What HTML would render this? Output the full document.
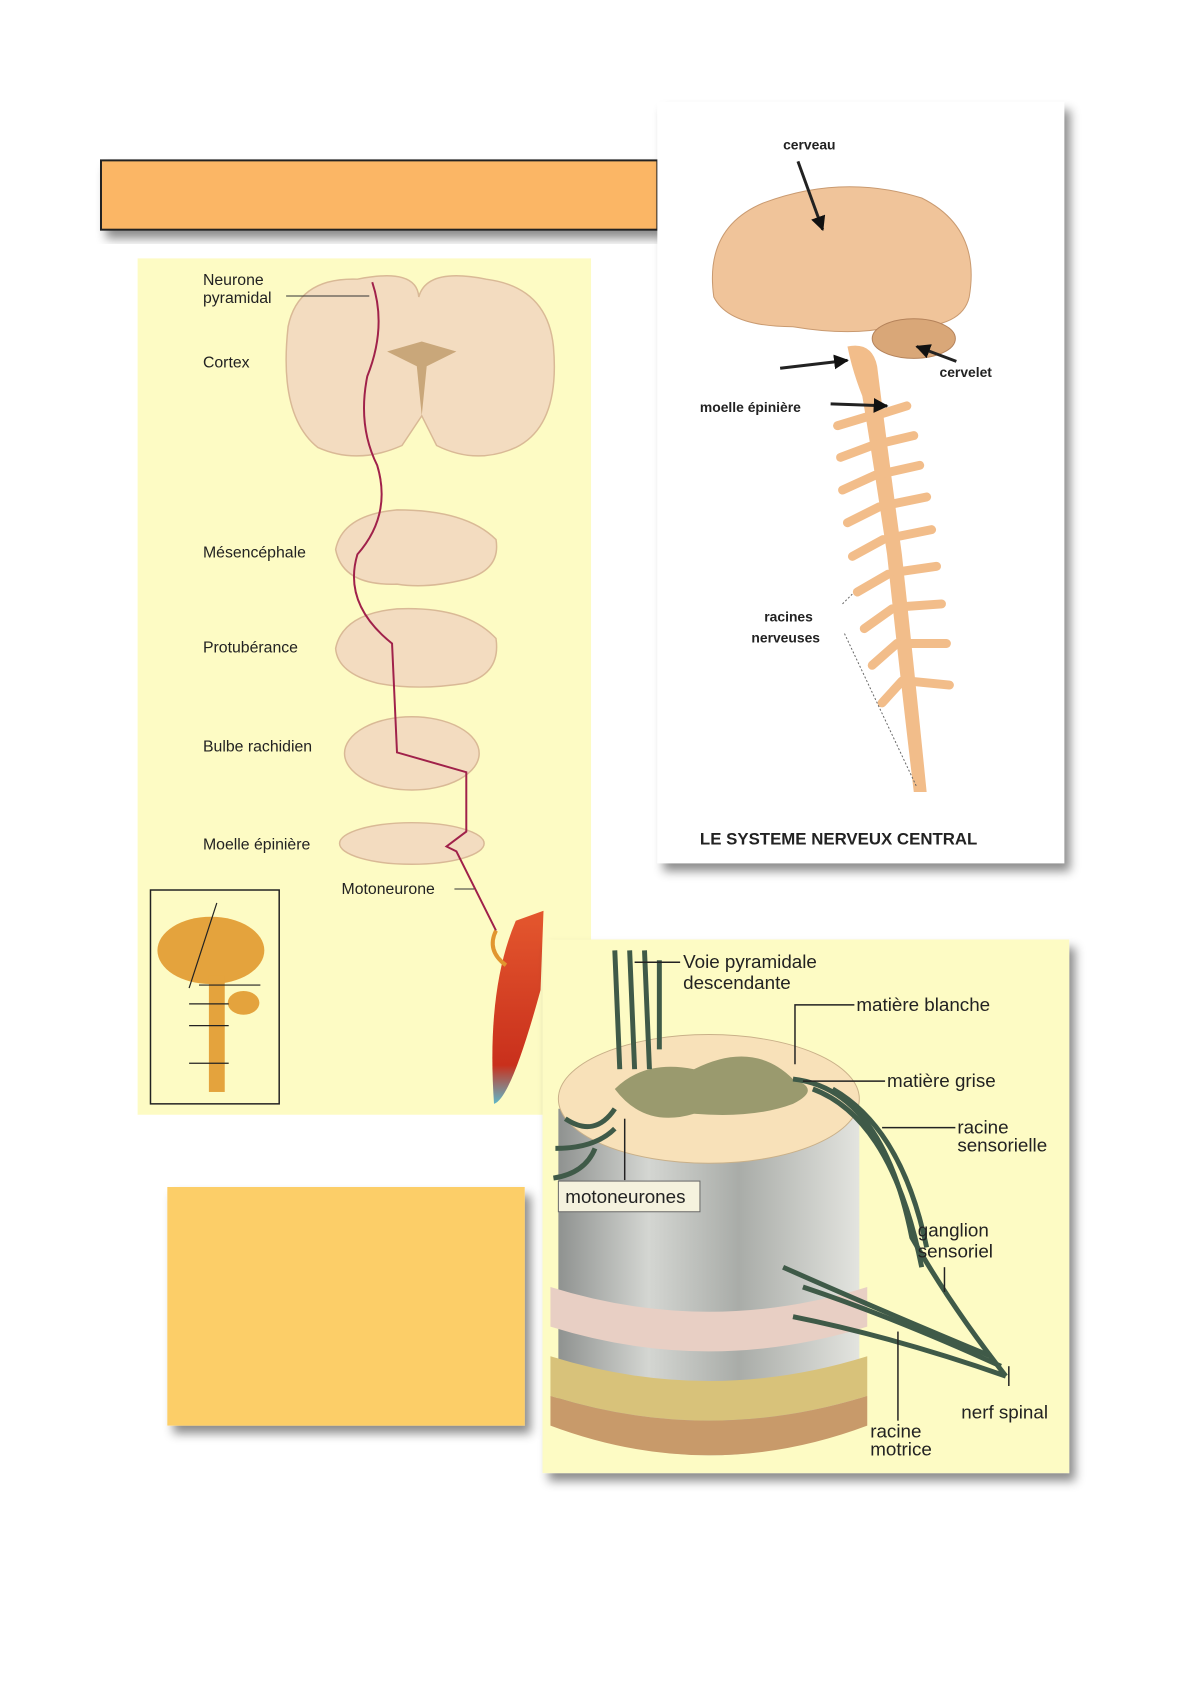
<!DOCTYPE html>
<html><head><meta charset="utf-8"><style>
body{margin:0;background:#fff;}
svg{display:block;font-family:"Liberation Sans",sans-serif;}
</style></head><body>
<svg width="1191" height="1684" viewBox="0 0 1191 1684" xmlns="http://www.w3.org/2000/svg">
<defs>
<filter id="sh" x="-10%" y="-10%" width="130%" height="130%"><feDropShadow dx="6" dy="8" stdDeviation="5" flood-color="#000" flood-opacity="0.45"/></filter>
<linearGradient id="cyl" x1="0" x2="1"><stop offset="0" stop-color="#8f9290"/><stop offset="0.3" stop-color="#d4d6d2"/><stop offset="0.6" stop-color="#a9aca8"/><stop offset="1" stop-color="#e3e4df"/></linearGradient>
<linearGradient id="mus" x1="0" y1="0" x2="0" y2="1"><stop offset="0" stop-color="#e4572e"/><stop offset="0.8" stop-color="#c9301c"/><stop offset="1" stop-color="#5fb7c8"/></linearGradient>
<marker id="ar" viewBox="0 0 10 10" refX="9" refY="5" markerWidth="5" markerHeight="5" orient="auto"><path d="M0 0 L10 5 L0 10Z" fill="#111"/></marker>
</defs>
<g transform="translate(1 0) scale(0.99 0.99)">
<rect x="101" y="162" width="562" height="70" fill="#fbb665" stroke="#222" stroke-width="2" filter="url(#sh)"/>
<rect x="138" y="261" width="458" height="865" fill="#fdfbc4"/>
<g fill="#f3dcc0" stroke="#d9b996" stroke-width="1.5">
<path d="M290 330 Q300 280 360 282 Q420 270 422 300 Q430 270 490 282 Q552 290 558 350 Q565 430 520 452 Q480 470 440 450 L425 420 L405 450 Q360 470 320 452 Q280 420 290 330Z"/>
<path d="M338 555 Q345 520 400 515 Q470 515 500 545 Q505 575 470 585 Q430 595 400 590 Q345 592 338 555Z"/>
<path d="M338 655 Q345 620 400 615 Q470 612 500 645 Q505 680 470 690 Q420 698 380 690 Q340 680 338 655Z"/>
<ellipse cx="415" cy="761" rx="68" ry="37"/>
<ellipse cx="415" cy="852" rx="73" ry="21"/>
</g>
<path d="M390 355 L425 345 L460 355 L430 370 L425 420 L420 370Z" fill="#c9a77a"/>
<path d="M375 285 Q390 330 370 380 Q360 430 380 470 Q395 520 360 560 Q345 610 395 650 L400 760 L470 780 L470 840 L450 855 L460 860 L500 940" fill="none" stroke="#a0214a" stroke-width="2"/>
<path d="M520 930 Q490 1000 498 1115 Q515 1110 545 1000 L548 920Z" fill="url(#mus)"/>
<path d="M500 940 Q490 960 510 975" fill="none" stroke="#e1962f" stroke-width="4"/>
<g font-size="16" fill="#222">
<text x="204" y="288">Neurone</text><text x="204" y="306">pyramidal</text>
<text x="204" y="371">Cortex</text>
<text x="204" y="563">Mésencéphale</text>
<text x="204" y="659">Protubérance</text>
<text x="204" y="759">Bulbe rachidien</text>
<text x="204" y="858">Moelle épinière</text>
<text x="344" y="903">Motoneurone</text>
</g>
<line x1="288" y1="299" x2="372" y2="299" stroke="#333"/>
<line x1="458" y1="898" x2="478" y2="898" stroke="#333"/>
<rect x="151" y="899" width="130" height="216" fill="#fdfbc4" stroke="#222" stroke-width="1.5"/>
<ellipse cx="212" cy="960" rx="54" ry="34" fill="#e4a33d"/>
<rect x="210" y="985" width="16" height="118" fill="#e4a33d"/>
<ellipse cx="245" cy="1013" rx="16" ry="12" fill="#e4a33d"/>
<g stroke="#222" stroke-width="1.2"><line x1="218" y1="912" x2="190" y2="998"/><line x1="200" y1="995" x2="262" y2="995"/><line x1="190" y1="1014" x2="230" y2="1014"/><line x1="190" y1="1036" x2="230" y2="1036"/><line x1="190" y1="1074" x2="230" y2="1074"/></g>
<rect x="663" y="103" width="411" height="769" fill="#fff" filter="url(#sh)"/>
<path d="M720 300 Q710 230 770 205 Q850 175 930 200 Q990 230 978 300 Q970 335 900 330 Q860 340 800 330 Q735 330 720 300Z" fill="#f0c49a" stroke="#c99a70"/>
<ellipse cx="922" cy="342" rx="42" ry="20" fill="#d9a778" stroke="#b4825a"/>
<path d="M855 350 Q880 345 885 370 Q895 450 910 560 Q925 700 935 800 L922 800 Q910 700 895 560 Q880 460 870 400 Q860 375 855 350Z" fill="#f2bd8a"/>
<g stroke="#f2bd8a" stroke-width="9" stroke-linecap="round">
<line x1="878" y1="420" x2="845" y2="430"/><line x1="883" y1="420" x2="915" y2="410"/>
<line x1="880" y1="450" x2="848" y2="462"/><line x1="888" y1="448" x2="922" y2="440"/>
<line x1="883" y1="480" x2="850" y2="495"/><line x1="892" y1="478" x2="928" y2="470"/>
<line x1="887" y1="512" x2="855" y2="528"/><line x1="896" y1="510" x2="935" y2="502"/>
<line x1="891" y1="545" x2="860" y2="562"/><line x1="900" y1="543" x2="940" y2="535"/>
<line x1="896" y1="580" x2="865" y2="598"/><line x1="904" y1="578" x2="945" y2="572"/>
<line x1="900" y1="615" x2="872" y2="635"/><line x1="908" y1="613" x2="950" y2="610"/>
<line x1="905" y1="650" x2="880" y2="672"/><line x1="912" y1="650" x2="955" y2="650"/>
<line x1="910" y1="688" x2="890" y2="710"/><line x1="917" y1="688" x2="958" y2="692"/>
</g>
<g stroke="#222" stroke-width="3" marker-end="url(#ar)"><line x1="805" y1="163" x2="830" y2="232"/><line x1="787" y1="372" x2="855" y2="364"/><line x1="838" y1="408" x2="895" y2="410"/><line x1="965" y1="365" x2="925" y2="350"/></g>
<g fill="#222" font-weight="bold" font-size="14">
<text x="790" y="151">cerveau</text><text x="948" y="381">cervelet</text><text x="706" y="416">moelle épinière</text>
<text x="771" y="628">racines</text><text x="758" y="649">nerveuses</text>
<text x="706" y="853" font-size="17">LE SYSTEME NERVEUX CENTRAL</text>
</g>
<path d="M850 610 L860 600 M852 640 L925 795" stroke="#666" stroke-dasharray="2 2" fill="none"/>
<rect x="168" y="1199" width="361" height="241" fill="#fcce67" filter="url(#sh)"/>
<rect x="547" y="949" width="532" height="539" fill="#fdfbc4" filter="url(#sh)"/>
<path d="M563 1120 L563 1440 Q715 1500 867 1440 L867 1120Z" fill="url(#cyl)"/>
<path d="M555 1300 Q715 1350 875 1300 L875 1340 Q715 1390 555 1340Z" fill="#e8cfc4"/>
<path d="M555 1370 Q715 1420 875 1370 L875 1410 Q715 1460 555 1410Z" fill="#d8c27a"/>
<path d="M555 1410 Q715 1460 875 1410 L875 1440 Q715 1500 555 1440Z" fill="#c89a6a"/>
<ellipse cx="715" cy="1110" rx="152" ry="65" fill="#f8e1b9" stroke="#c9b089"/>
<path d="M620 1100 Q650 1070 700 1080 Q760 1050 800 1090 Q830 1100 800 1115 Q760 1130 700 1125 Q650 1140 620 1100Z" fill="#9a9a6e"/>
<g fill="none" stroke="#3f5a48" stroke-width="5">
<path d="M800 1090 Q890 1100 920 1250 Q960 1320 1015 1390"/>
<path d="M820 1100 Q900 1130 930 1280"/>
<path d="M840 1100 Q910 1140 935 1260"/>
<path d="M800 1330 Q900 1350 1015 1390"/>
<path d="M810 1300 Q900 1330 1010 1380"/>
<path d="M790 1280 Q880 1320 1000 1370"/>
<path d="M620 960 L625 1080 M635 960 L640 1080 M650 960 L655 1080 M665 970 L665 1060"/>
<path d="M570 1130 Q600 1150 620 1120 M560 1160 Q600 1160 620 1140 M558 1190 Q590 1185 600 1160"/>
</g>
<rect x="563" y="1193" width="143" height="31" fill="#f5f2de" stroke="#666"/>
<g fill="#222" font-size="19">
<text x="570" y="1215">motoneurones</text>
<text x="689" y="978">Voie pyramidale</text><text x="689" y="999">descendante</text>
<text x="864" y="1021">matière blanche</text>
<text x="895" y="1098">matière grise</text>
<text x="966" y="1145">racine</text><text x="966" y="1163">sensorielle</text>
<text x="926" y="1249">ganglion</text><text x="926" y="1270">sensoriel</text>
<text x="970" y="1433">nerf spinal</text>
<text x="878" y="1452">racine</text><text x="878" y="1470">motrice</text>
</g>
<g stroke="#222" stroke-width="1.5" fill="none">
<path d="M686 972 L640 972"/><path d="M862 1015 L802 1015 L802 1075"/><path d="M893 1092 L810 1092"/>
<path d="M964 1139 L890 1139"/><path d="M953 1280 L953 1305"/><path d="M1018 1400 L1018 1380"/>
<path d="M906 1435 L906 1345"/><path d="M630 1192 L630 1130"/>
</g>
</g>
</svg>
</body></html>
